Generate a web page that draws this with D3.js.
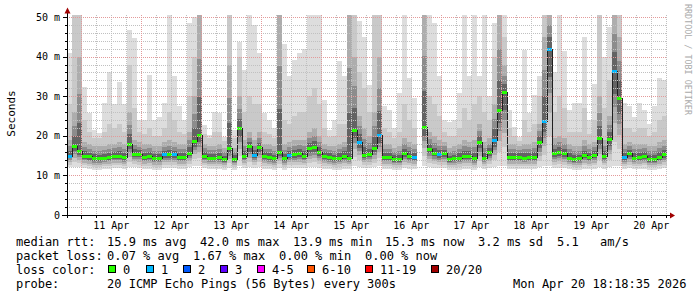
<!DOCTYPE html>
<html>
<head>
<meta charset="utf-8">
<script src="https://cdn.jsdelivr.net/npm/d3@7"></script>
<style>
body { margin: 0; background: #fff; }
svg text { font-family: "DejaVu Sans Mono", monospace; fill: #000; }
</style>
</head>
<body>
<div id="chart"></div>
<script>
// median rtt (ms) per 2h step, 10 Apr 18:18 -> 20 Apr 18:18
const median = [
  15.0, 17.5, 16.2, 15.0, 14.8, 14.4, 14.3, 14.5, 14.7, 15.0, 15.0, 14.6, 18.0, 15.5, 15.4, 14.7, 15.0, 14.4, 14.4, 15.3,
  15.3, 15.3, 14.7, 14.7, 15.7, 18.7, 20.2, 15.0, 14.5, 14.5, 14.7, 14.1, 17.0, 14.2, 21.9, 15.0, 17.3, 15.2, 17.1, 14.9,
  14.7, 14.3, 16.0, 14.3, 15.2, 15.3, 15.6, 15.0, 16.8, 17.1, 16.0, 14.9, 14.7, 14.3, 14.5, 15.0, 14.5, 21.5, 18.5, 15.2,
  15.4, 17.0, 20.2, 14.7, 14.7, 14.2, 14.2, 15.6, 15.0, 14.7, null, 22.3, 16.7, 15.7, 15.3, 15.6, 14.1, 14.3, 14.5, 15.0,
  15.0, 14.3, 18.5, 14.5, 15.8, 18.9, 26.5, 31.0, 14.7, 14.7, 14.7, 14.5, 14.7, 14.7, 18.5, 23.8, 41.9, 15.6, 16.0, 15.6,
  14.5, 14.1, 14.3, 15.1, 14.7, 15.1, 19.4, 15.0, 19.1, 36.4, 29.5, 14.6, 15.6, 14.5, 14.7, 15.0, 14.1, 14.1, 14.7, 15.3
];
// slowest ping of each step
const hi = [
  41, 52, 52, 32.4, 25.7, 21.5, 20.6, 28.2, 36.2, 28, 33.7, 28, 46.7, 44.6, 24, 24, 35.3, 24, 24.8, 28.2,
  52, 35, 27.4, 24, 48.4, 50, 52, 22.7, 20.2, 26, 25.7, 19.8, 52, 21.5, 43.8, 36.6, 52, 48, 40.8, 25.7,
  24, 21.9, 52, 43.3, 35, 39.1, 40.8, 42, 52, 52, 52, 29, 21.5, 24, 39, 35, 52, 52, 49, 45,
  32.8, 52, 52, 27.4, 26.5, 21.9, 30.7, 52, 34.5, 29.5, null, 52, 52, 48.4, 35, 24, 23.6, 24, 30.7, 52,
  35, 52, 35, 52, 30, 48.4, 52, 52, 26.5, 22.3, 19.8, 41.7, 25.7, 30.3, 35, 52, 52, 36.2, 52, 41.3,
  26.5, 28.2, 28.2, 45, 24, 33.2, 52, 40, 47.6, 52, 52, 28.2, 27.4, 24.8, 28.2, 26.5, 23.1, 27.4, 34.5, 34.1
];
// 90th percentile ping
const p90 = [
  28, 52, 52, 24, 21, 19.5, 19.5, 21, 23, 22, 23, 21, 38, 27, 21, 20.5, 22, 20, 20, 22,
  26, 24, 21, 20.5, 30, 40, 52, 20.5, 19.5, 21, 21, 18.8, 52, 19.5, 40, 26, 30, 28, 28, 21,
  20.5, 19.5, 52, 24, 23, 25, 26, 26, 30, 32, 28, 22, 19.8, 20, 23, 23, 52, 52, 36, 32,
  26, 52, 52, 22, 21, 19.5, 21, 28, 24, 22, null, 52, 30, 28, 25, 21, 20, 20, 22, 27,
  24, 28, 30, 26, 24, 40, 52, 45, 22, 20, 18.8, 24, 21, 23, 30, 52, 52, 26, 30, 27,
  21, 21, 21, 27, 20.5, 24, 52, 27, 34, 52, 52, 22, 22, 21, 22, 22, 20, 21, 24, 25
];
// 75th percentile ping
const p75 = [
  19, 26, 40, 18.5, 18, 17.5, 17.5, 17.5, 18, 18, 18.5, 18, 26, 19, 18.5, 18, 18, 17.5, 17.5, 18.5,
  19, 18.5, 18, 18, 21, 30, 52, 18, 17.5, 17.5, 18, 17, 38, 17, 30, 19, 21, 19, 21, 18,
  18, 17.5, 52, 18, 18.5, 19, 19, 19, 21, 22, 20, 18, 17.5, 17.5, 18, 18.5, 52, 40, 25, 22,
  20, 26, 40, 18, 18, 17, 17.5, 19.5, 18.5, 18, null, 52, 21, 20, 19, 18.5, 17, 17.5, 18, 19,
  18.5, 19, 23, 18.5, 19.5, 28, 52, 38, 18, 18, 17.5, 18, 18, 18.5, 23, 45, 52, 19.5, 20, 19.5,
  18, 17.5, 17.5, 19, 18, 18.5, 30, 19, 25, 52, 45, 18, 18.5, 18, 18, 18, 17.5, 17.5, 18.5, 19
];
// fastest ping
const lo = [
  12.0, 12.0, 12.0, 11.8, 11.5, 11.3, 11.3, 11.5, 11.6, 11.8, 11.8, 11.6, 12.0, 12.0, 11.8, 11.6, 11.6, 11.4, 11.4, 11.8,
  11.8, 11.8, 11.6, 11.6, 12.0, 12.5, 12.5, 11.8, 11.5, 11.5, 11.5, 11.3, 11.8, 11.3, 12.5, 11.8, 12.0, 11.8, 12.0, 11.6,
  11.5, 11.3, 11.8, 11.4, 11.8, 11.8, 11.8, 11.8, 12.0, 12.0, 11.9, 11.6, 11.5, 11.3, 11.4, 11.6, 11.6, 12.5, 12.2, 11.8,
  11.8, 12.0, 12.3, 11.6, 11.6, 11.3, 11.3, 11.8, 11.7, 11.6, null, 12.5, 12.0, 11.9, 11.8, 11.8, 11.3, 11.3, 11.4, 11.6,
  11.6, 11.4, 12.0, 11.5, 11.8, 12.2, 12.5, 12.5, 11.6, 11.6, 11.6, 11.5, 11.6, 11.6, 12.0, 12.3, 12.5, 11.8, 11.9, 11.8,
  11.5, 11.3, 11.4, 11.7, 11.6, 11.7, 12.2, 11.7, 12.2, 12.5, 12.5, 11.6, 11.8, 11.5, 11.6, 11.7, 11.3, 11.3, 11.6, 11.8
];
// lost pings out of 20
const loss = [
  1, 0, 0, 0, 0, 0, 0, 0, 0, 0, 0, 0, 0, 0, 0, 0, 0, 0, 0, 1,
  0, 1, 0, 0, 0, 0, 0, 0, 0, 0, 0, 0, 0, 0, 0, 0, 0, 1, 0, 0,
  0, 0, 0, 0, 1, 0, 0, 0, 0, 0, 0, 0, 0, 0, 0, 0, 0, 0, 1, 0,
  0, 0, 1, 0, 0, 0, 0, 0, 0, 1, 0, 0, 0, 0, 1, 0, 0, 0, 0, 0,
  0, 0, 0, 0, 0, 1, 0, 0, 0, 0, 0, 0, 0, 0, 0, 1, 1, 0, 0, 0,
  0, 0, 0, 0, 0, 0, 0, 0, 0, 1, 0, 1, 0, 0, 0, 0, 0, 0, 0, 0
];
const lossColors = ["#26ff00", "#00b8ff", "#0059ff", "#5e00ff", "#ff00ff", "#ff5500", "#ff0000", "#a10000"];
const lossLabels = ["0", "1", "2", "3", "4-5", "6-10", "11-19", "20/20"];
const yTicks = [0, 10, 20, 30, 40, 50];

const rttStats = ["15.9 ms avg", "42.0 ms max", "13.9 ms min", "15.3 ms now", "3.2 ms sd", "5.1", "am/s"];
const lossStats = ["0.07 % avg", "1.67 % max", "0.00 % min", "0.00 % now"];
const probeText = "20 ICMP Echo Pings (56 Bytes) every 300s";
const stamp = "Mon Apr 20 18:18:35 2026";

const W = 697, H = 297;
const t0 = Date.UTC(2026, 3, 10, 18, 18, 35);
const t1 = Date.UTC(2026, 3, 20, 18, 18, 35);
const stepMs = 2 * 3600 * 1000;

const x = d3.scaleUtc().domain([new Date(t0), new Date(t1)]).range([67, 667]);
const y = d3.scaleLinear().domain([0, 50]).range([215, 17]);
const tx = i => x(new Date(t0 + i * stepMs));

const svg = d3.select("#chart").append("svg")
  .attr("width", W).attr("height", H)
  .style("background", "#fff");

svg.append("clipPath").attr("id", "plot")
  .append("rect").attr("x", 67).attr("y", 15).attr("width", 600).attr("height", 200);

// smoke: 5 shades from outer pings in to the median
const shades = ["#dddddd", "#c9c9c9", "#adadad", "#8c8c8c", "#636363"];
const smoke = [];
median.forEach((m, i) => {
  if (m == null) return;
  const tops = [hi[i], p90[i], p75[i], m + (p75[i] - m) * 0.6, m + (p75[i] - m) * 0.3];
  const bots = [0, 0.25, 0.45, 0.62, 0.76].map(f => lo[i] + (m - lo[i]) * f);
  tops.forEach((t, b) => smoke.push({ i, b, top: t, bot: bots[b] }));
});

const plot = svg.append("g").attr("clip-path", "url(#plot)");
plot.selectAll("rect.smoke")
  .data(smoke)
  .enter().append("rect")
  .attr("class", "smoke")
  .attr("x", d => tx(d.i))
  .attr("width", d => tx(d.i + 1) - tx(d.i))
  .attr("y", d => y(d.top))
  .attr("height", d => y(d.bot) - y(d.top))
  .attr("fill", d => shades[d.b])
  .attr("shape-rendering", "crispEdges");

// grid
const grid = svg.append("g").attr("shape-rendering", "crispEdges");
const minorY = d3.range(2, 50, 2).filter(v => v % 10 !== 0);
const majorY = [10, 20, 30, 40, 50];
grid.selectAll("line.hy")
  .data(minorY).enter().append("line")
  .attr("x1", 67).attr("x2", 667)
  .attr("y1", d => Math.round(y(d)) + 0.5).attr("y2", d => Math.round(y(d)) + 0.5)
  .attr("stroke", "#c0c0c0").attr("stroke-dasharray", "1,1");
const hours = x.ticks(d3.utcHour.every(6)).filter(d => d.getUTCHours() !== 0);
const days = x.ticks(d3.utcDay.every(1));
grid.selectAll("line.vx")
  .data(hours).enter().append("line")
  .attr("y1", 15).attr("y2", 215)
  .attr("x1", d => Math.round(x(d)) + 0.5).attr("x2", d => Math.round(x(d)) + 0.5)
  .attr("stroke", "#c0c0c0").attr("stroke-dasharray", "1,1");
grid.selectAll("line.my")
  .data(majorY).enter().append("line")
  .attr("x1", 67).attr("x2", 667)
  .attr("y1", d => Math.round(y(d)) + 0.5).attr("y2", d => Math.round(y(d)) + 0.5)
  .attr("stroke", "#e39a9a").attr("stroke-dasharray", "1,1");
grid.selectAll("line.mx")
  .data(days).enter().append("line")
  .attr("y1", 15).attr("y2", 215)
  .attr("x1", d => Math.round(x(d)) + 0.5).attr("x2", d => Math.round(x(d)) + 0.5)
  .attr("stroke", "#e39a9a").attr("stroke-dasharray", "1,1");

// median line and loss colour marks
const medPts = median.map((m, i) => [i, m]);
medPts.push([median.length, median[median.length - 1]]);
const medLine = d3.line()
  .defined(d => d[1] != null)
  .x(d => Math.round(tx(d[0])))
  .y(d => Math.round(y(d[1])) + 0.5)
  .curve(d3.curveStepAfter);
plot.append("path")
  .attr("d", medLine(medPts))
  .attr("fill", "none")
  .attr("stroke", "#202020")
  .attr("stroke-width", 1)
  .attr("shape-rendering", "crispEdges");

plot.selectAll("rect.med")
  .data(median.map((m, i) => ({ m, i })).filter(d => d.m != null))
  .enter().append("rect")
  .attr("class", "med")
  .attr("x", d => tx(d.i))
  .attr("width", d => tx(d.i + 1) - tx(d.i))
  .attr("y", d => Math.round(y(d.m)) - 1)
  .attr("height", 3)
  .attr("fill", d => lossColors[loss[d.i]])
  .attr("shape-rendering", "crispEdges");

// axes
const ax = svg.append("g").attr("shape-rendering", "crispEdges");
ax.append("line").attr("x1", 67.5).attr("x2", 67.5).attr("y1", 218).attr("y2", 12).attr("stroke", "#000");
ax.append("line").attr("x1", 62).attr("x2", 670).attr("y1", 215.5).attr("y2", 215.5).attr("stroke", "#000");
ax.selectAll("line.ty")
  .data(d3.range(2, 51, 2)).enter().append("line")
  .attr("x1", d => d % 10 === 0 ? 63 : 65).attr("x2", 67)
  .attr("y1", d => Math.round(y(d)) + 0.5).attr("y2", d => Math.round(y(d)) + 0.5)
  .attr("stroke", "#000");
ax.selectAll("line.tx")
  .data(hours.concat(days)).enter().append("line")
  .attr("y1", 216).attr("y2", d => d.getUTCHours() === 0 ? 219 : 218)
  .attr("x1", d => Math.round(x(d)) + 0.5).attr("x2", d => Math.round(x(d)) + 0.5)
  .attr("stroke", "#000");

svg.append("path").attr("d", "M64.5,13.5L70.5,13.5L67.5,7.5Z").attr("fill", "#a00000");
svg.append("path").attr("d", "M670,212.5L670,218.5L675,215.5Z").attr("fill", "#a00000");

svg.selectAll("text.yl")
  .data(yTicks).enter().append("text")
  .attr("x", 60).attr("y", d => y(d) + 3.5)
  .attr("text-anchor", "end")
  .style("font-size", "10px")
  .text(d => d === 0 ? "0" : d + " m");

const noons = days.map(d => new Date(+d + 12 * 3600 * 1000)).filter(d => x(d) < 667);
svg.selectAll("text.xl")
  .data(noons).enter().append("text")
  .attr("x", d => x(d)).attr("y", 229)
  .attr("text-anchor", "middle")
  .style("font-size", "10px")
  .text(d3.utcFormat("%d %b"));

svg.append("text")
  .attr("transform", "translate(15,113.5) rotate(-90)")
  .attr("text-anchor", "middle")
  .style("font-size", "11px")
  .text("Seconds");

svg.append("text")
  .attr("transform", "translate(685,4) rotate(90)")
  .style("font-size", "8.4px")
  .style("fill", "#aaaaaa")
  .text("RRDTOOL / TOBI OETIKER");

// legend
const lg = svg.append("g").style("font-size", "12px");
const rttX = [107, 200, 293, 385, 478, 557, 600];
const lossX = [107, 193, 279, 365];
lg.append("text").attr("x", 16).attr("y", 245.5).text("median rtt:");
lg.selectAll("text.r1").data(rttStats).enter().append("text")
  .attr("x", (d, i) => rttX[i]).attr("y", 245.5).text(d => d);
lg.append("text").attr("x", 16).attr("y", 259.5).text("packet loss:");
lg.selectAll("text.r2").data(lossStats).enter().append("text")
  .attr("x", (d, i) => lossX[i]).attr("y", 259.5).text(d => d);
lg.append("text").attr("x", 16).attr("y", 273.5).text("loss color:");
const boxX = [108, 146, 183, 220, 257, 307, 365, 431];
lg.selectAll("rect.lc").data(lossColors).enter().append("rect")
  .attr("x", (d, i) => boxX[i] + 0.5).attr("y", 265.5)
  .attr("width", 7).attr("height", 7)
  .attr("fill", d => d).attr("stroke", "#000")
  .attr("shape-rendering", "crispEdges");
lg.selectAll("text.ll").data(lossLabels).enter().append("text")
  .attr("x", (d, i) => boxX[i] + 15).attr("y", 273.5).text(d => d);
lg.append("text").attr("x", 16).attr("y", 287.5).text("probe:");
lg.append("text").attr("x", 107).attr("y", 287.5).text(probeText);
lg.append("text").attr("x", 513).attr("y", 287.5).text(stamp);
</script>
</body>
</html>
